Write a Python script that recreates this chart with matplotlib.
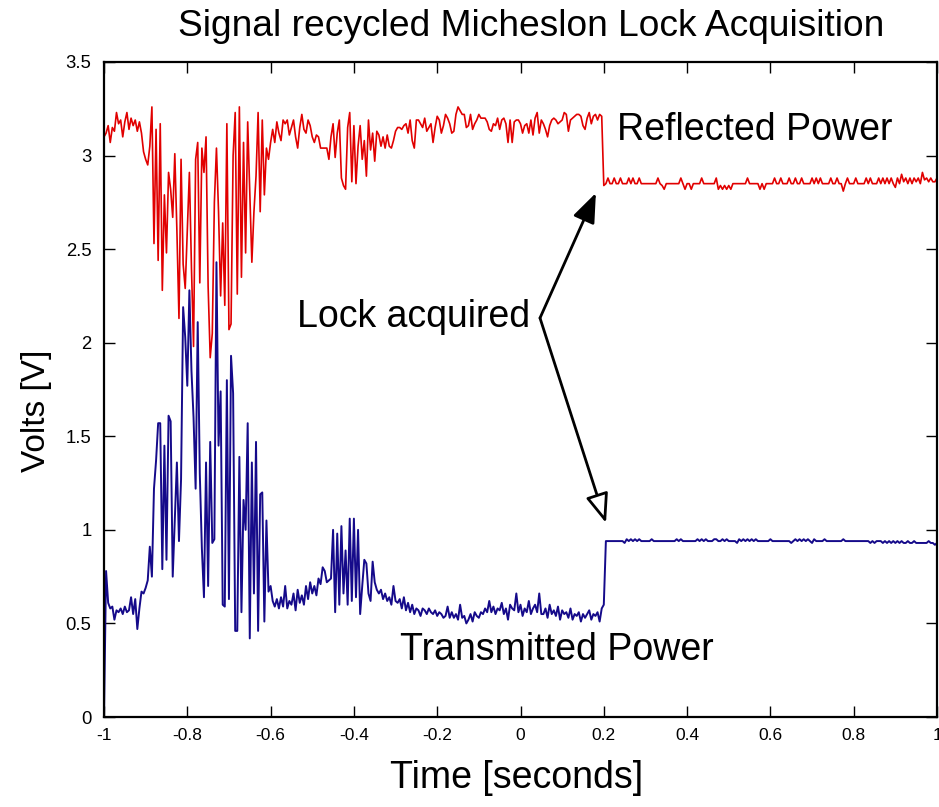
import numpy as np
import matplotlib
matplotlib.use("Agg")
import matplotlib.pyplot as plt
from matplotlib.ticker import FuncFormatter

plt.rcParams['font.family'] = ['Liberation Sans', 'DejaVu Sans']

# ---- data ----
t_start, t_end = -1.0, 1.0

transmitted = [
    0.00, 0.78, 0.61, 0.58, 0.59, 0.52, 0.57, 0.56, 0.58, 0.55,
    0.59, 0.56, 0.57, 0.64, 0.55, 0.63, 0.47, 0.58, 0.67, 0.66,
    0.69, 0.73, 0.91, 0.75, 1.22, 1.37, 1.57, 1.57, 0.79, 1.45,
    0.84, 1.61, 1.58, 0.75, 1.05, 1.36, 0.94, 1.27, 2.19, 2.03,
    1.77, 2.28, 1.85, 1.60, 1.22, 2.11, 1.30, 0.90, 0.64, 1.36,
    0.70, 1.47, 0.93, 0.95, 2.43, 1.45, 1.74, 0.60, 0.59, 1.80,
    0.63, 1.93, 1.73, 0.46, 0.46, 1.39, 0.56, 1.16, 1.00, 1.57,
    0.42, 1.36, 0.66, 1.47, 0.46, 1.19, 1.20, 0.51, 1.05, 0.67,
    0.70, 0.62, 0.59, 0.63, 0.58, 0.64, 0.59, 0.70, 0.58, 0.62,
    0.60, 0.66, 0.57, 0.68, 0.61, 0.65, 0.60, 0.70, 0.63, 0.72,
    0.66, 0.70, 0.65, 0.74, 0.71, 0.80, 0.78, 0.72, 0.73, 0.74,
    1.00, 0.56, 0.98, 0.60, 1.02, 0.66, 0.89, 0.60, 1.06, 0.62,
    1.06, 0.64, 1.00, 0.55, 0.70, 0.84, 0.82, 0.66, 0.62, 0.83,
    0.72, 0.68, 0.66, 0.68, 0.63, 0.66, 0.62, 0.64, 0.60, 0.70,
    0.62, 0.61, 0.63, 0.58, 0.64, 0.57, 0.61, 0.56, 0.60, 0.55,
    0.58, 0.57, 0.54, 0.58, 0.57, 0.55, 0.58, 0.56, 0.55, 0.57,
    0.54, 0.56, 0.55, 0.53, 0.54, 0.59, 0.53, 0.56, 0.53, 0.55,
    0.52, 0.60, 0.53, 0.54, 0.50, 0.52, 0.55, 0.51, 0.56, 0.54,
    0.53, 0.56, 0.55, 0.58, 0.56, 0.62, 0.56, 0.59, 0.55, 0.58,
    0.57, 0.61, 0.55, 0.58, 0.52, 0.60, 0.58, 0.57, 0.66, 0.56,
    0.60, 0.54, 0.58, 0.56, 0.62, 0.55, 0.58, 0.60, 0.56, 0.66,
    0.55, 0.55, 0.58, 0.53, 0.60, 0.55, 0.57, 0.54, 0.59, 0.52,
    0.57, 0.55, 0.56, 0.53, 0.58, 0.52, 0.55, 0.54, 0.56, 0.51,
    0.55, 0.53, 0.55, 0.57, 0.52, 0.55, 0.54, 0.56, 0.51, 0.58,
    0.60, 0.94, 0.94, 0.94, 0.94, 0.94, 0.94, 0.94, 0.94, 0.94,
    0.93, 0.95, 0.94, 0.95, 0.94, 0.95, 0.94, 0.95, 0.94, 0.94,
    0.94, 0.94, 0.94, 0.95, 0.94, 0.94, 0.94, 0.94, 0.94, 0.94,
    0.94, 0.94, 0.94, 0.94, 0.94, 0.95, 0.94, 0.95, 0.94, 0.94,
    0.94, 0.94, 0.94, 0.94, 0.94, 0.95, 0.94, 0.95, 0.94, 0.95,
    0.94, 0.94, 0.94, 0.95, 0.95, 0.94, 0.94, 0.95, 0.94, 0.95,
    0.94, 0.94, 0.94, 0.94, 0.93, 0.95, 0.94, 0.95, 0.94, 0.95,
    0.94, 0.95, 0.94, 0.95, 0.94, 0.94, 0.94, 0.94, 0.94, 0.94,
    0.95, 0.94, 0.94, 0.94, 0.94, 0.94, 0.94, 0.94, 0.94, 0.94,
    0.93, 0.94, 0.95, 0.94, 0.95, 0.94, 0.95, 0.94, 0.95, 0.94,
    0.93, 0.95, 0.94, 0.94, 0.94, 0.94, 0.95, 0.94, 0.94, 0.94,
    0.94, 0.94, 0.94, 0.94, 0.94, 0.95, 0.94, 0.94, 0.94, 0.94,
    0.94, 0.94, 0.94, 0.94, 0.94, 0.94, 0.94, 0.94, 0.93, 0.94,
    0.93, 0.94, 0.94, 0.94, 0.93, 0.94, 0.93, 0.94, 0.93, 0.94,
    0.93, 0.94, 0.93, 0.94, 0.93, 0.93, 0.94, 0.93, 0.93, 0.94,
    0.93, 0.93, 0.93, 0.93, 0.93, 0.93, 0.94, 0.93, 0.93, 0.92,
    0.93,
]

reflected = [
    3.10, 3.12, 3.16, 3.07, 3.15, 3.13, 3.23, 3.17, 3.19, 3.10,
    3.18, 3.23, 3.14, 3.20, 3.16, 3.19, 3.13, 3.18, 3.12, 3.02,
    2.98, 2.95, 3.05, 3.26, 2.53, 3.14, 2.44, 3.17, 2.28, 2.79,
    2.48, 2.91, 2.82, 2.67, 3.01, 2.60, 2.13, 2.98, 2.42, 2.29,
    2.60, 2.91, 2.40, 1.98, 2.98, 3.07, 2.32, 3.04, 2.91, 3.10,
    2.30, 1.92, 2.05, 2.75, 3.04, 2.70, 2.25, 2.64, 2.20, 3.17,
    2.07, 2.10, 3.00, 3.23, 2.26, 3.26, 2.35, 3.07, 2.48, 3.18,
    2.80, 2.43, 2.70, 2.89, 3.23, 2.70, 3.19, 2.79, 3.04, 2.98,
    3.07, 3.14, 3.07, 3.18, 3.12, 3.08, 3.19, 3.17, 3.19, 3.11,
    3.15, 3.19, 3.10, 3.04, 3.15, 3.22, 3.14, 3.12, 3.19, 3.16,
    3.10, 3.07, 3.11, 3.10, 3.04, 3.04, 3.04, 3.04, 2.98, 3.10,
    3.17, 2.99, 3.12, 3.19, 2.88, 2.84, 2.82, 3.15, 3.23, 2.86,
    3.16, 2.85, 3.05, 3.16, 2.98, 3.08, 2.89, 3.19, 3.03, 3.12,
    2.97, 3.13, 3.11, 3.05, 3.10, 3.04, 3.11, 3.05, 3.04, 3.08,
    3.13, 3.15, 3.15, 3.14, 3.16, 3.17, 3.12, 3.19, 3.08, 3.04,
    3.19, 3.19, 3.17, 3.15, 3.20, 3.13, 3.15, 3.17, 3.07, 3.15,
    3.21, 3.19, 3.12, 3.16, 3.22, 3.20, 3.17, 3.12, 3.13, 3.22,
    3.26, 3.24, 3.22, 3.22, 3.15, 3.16, 3.22, 3.14, 3.17, 3.19,
    3.22, 3.20, 3.20, 3.20, 3.18, 3.14, 3.13, 3.17, 3.16, 3.20,
    3.14, 3.19, 3.20, 3.17, 3.07, 3.19, 3.07, 3.18, 3.19, 3.19,
    3.17, 3.12, 3.16, 3.17, 3.12, 3.19, 3.11, 3.20, 3.23, 3.12,
    3.19, 3.17, 3.14, 3.10, 3.16, 3.19, 3.20, 3.19, 3.17, 3.18,
    3.19, 3.23, 3.22, 3.13, 3.19, 3.20, 3.21, 3.22, 3.22, 3.21,
    3.16, 3.14, 3.20, 3.23, 3.17, 3.21, 3.22, 3.19, 3.22, 3.21,
    2.84, 2.85, 2.88, 2.85, 2.85, 2.88, 2.85, 2.85, 2.88, 2.85,
    2.85, 2.85, 2.88, 2.85, 2.88, 2.85, 2.85, 2.88, 2.85, 2.85,
    2.85, 2.85, 2.85, 2.85, 2.85, 2.85, 2.88, 2.85, 2.84, 2.82,
    2.85, 2.85, 2.85, 2.85, 2.85, 2.85, 2.85, 2.88, 2.85, 2.82,
    2.85, 2.85, 2.82, 2.85, 2.85, 2.85, 2.85, 2.88, 2.85, 2.85,
    2.85, 2.85, 2.85, 2.85, 2.88, 2.82, 2.84, 2.82, 2.84, 2.82,
    2.84, 2.82, 2.85, 2.85, 2.85, 2.85, 2.85, 2.85, 2.85, 2.88,
    2.85, 2.85, 2.85, 2.85, 2.85, 2.82, 2.85, 2.82, 2.85, 2.85,
    2.85, 2.85, 2.88, 2.85, 2.85, 2.88, 2.85, 2.85, 2.85, 2.88,
    2.85, 2.85, 2.88, 2.85, 2.85, 2.88, 2.85, 2.85, 2.85, 2.85,
    2.88, 2.85, 2.88, 2.85, 2.88, 2.85, 2.85, 2.85, 2.85, 2.88,
    2.85, 2.85, 2.88, 2.85, 2.85, 2.81, 2.85, 2.88, 2.85, 2.85,
    2.85, 2.88, 2.85, 2.85, 2.85, 2.85, 2.88, 2.85, 2.88, 2.85,
    2.85, 2.85, 2.88, 2.85, 2.88, 2.85, 2.88, 2.85, 2.88, 2.85,
    2.83, 2.88, 2.85, 2.90, 2.86, 2.88, 2.85, 2.88, 2.85, 2.88,
    2.86, 2.88, 2.85, 2.91, 2.87, 2.88, 2.86, 2.88, 2.86, 2.86,
    2.88,
]

x_ticks = [-1, -0.8, -0.6, -0.4, -0.2, 0, 0.2, 0.4, 0.6, 0.8, 1]
y_ticks = [0, 0.5, 1, 1.5, 2, 2.5, 3, 3.5]

time = np.linspace(t_start, t_end, len(reflected))

# ---- figure ----
W, H = 939, 807
fig = plt.figure(figsize=(W / 100, H / 100), dpi=100)
ax = fig.add_axes([104 / W, 1 - 717 / H, (937 - 104) / W, (717 - 62) / H])

ax.plot(time, reflected, color='#e10000', lw=1.2)
ax.plot(time, transmitted, color='#150a8a', lw=1.4)

ax.set_xlim(-1, 1)
ax.set_ylim(0, 3.5)
ax.set_xticks(x_ticks)
ax.set_yticks(y_ticks)
fmt = FuncFormatter(lambda v, p: ('%g' % v))
ax.xaxis.set_major_formatter(fmt)
ax.yaxis.set_major_formatter(fmt)
ax.tick_params(direction='in', length=8, width=1.0, top=True, right=True)
ax.tick_params(axis='y', labelsize=13.3, pad=9)
ax.tick_params(axis='x', labelsize=12.5, pad=8)
for sp in ax.spines.values():
    sp.set_linewidth(1.6)

fig.text(531 / W, 1 - 26 / H, 'Signal recycled Micheslon Lock Acquisition',
         ha='center', va='center', fontsize=26.7)
fig.text(517 / W, 1 - 778 / H, 'Time [seconds]', ha='center', va='center',
         fontsize=27)
fig.text(36 / W, 1 - 411 / H, 'Volts [V]', ha='center', va='center',
         rotation=90, fontsize=24)

ax.text(0.2317, 3.137, 'Reflected Power', ha='left', va='center', fontsize=27)
ax.text(-0.2893, 0.358, 'Transmitted Power', ha='left', va='center', fontsize=27)
ax.text(0.0228, 2.14, 'Lock acquired', ha='right', va='center', fontsize=27)

start = (0.0468, 2.132)
ax.annotate('', xy=(0.181, 2.80), xytext=start,
            arrowprops=dict(arrowstyle='-|>,head_length=0.9,head_width=0.35',
                            color='black', lw=2, mutation_scale=20,
                            shrinkA=0, shrinkB=0))
ax.annotate('', xy=(0.2053, 1.037), xytext=start,
            arrowprops=dict(arrowstyle='-|>,head_length=0.9,head_width=0.35',
                            facecolor='white', edgecolor='black', lw=2,
                            mutation_scale=20, shrinkA=0, shrinkB=0))

fig.savefig('out.png', dpi=100)
